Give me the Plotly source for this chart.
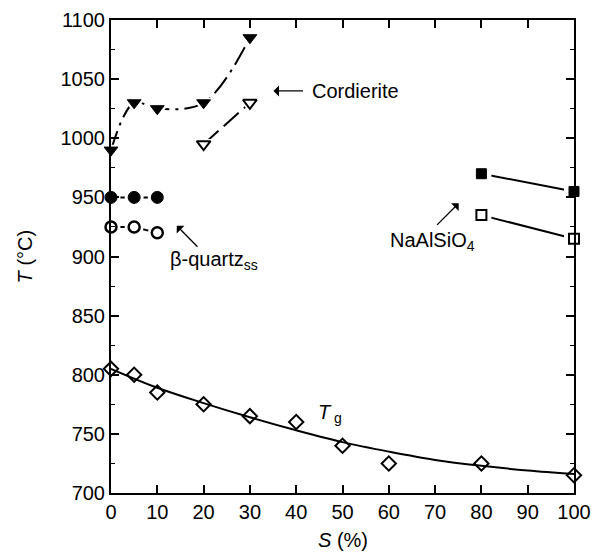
import plotly.graph_objects as go

# ---- data ----
cord_x = [0, 5, 10, 20, 30]
cord_T = [990, 1030, 1025, 1030, 1085]
cord_open_x = [20, 30]
cord_open_T = [995, 1030]

bq_x = [0, 5, 10]
bq_T = [950, 950, 950]
bq_open_T = [925, 925, 920]

na_x = [80, 100]
na_T = [970, 955]
na_open_T = [935, 915]

tg_x = [0, 5, 10, 20, 30, 40, 50, 60, 80, 100]
tg_T = [805, 800, 785, 775, 765, 760, 740, 725, 725, 715]

fit_x = [0, 10, 20, 30, 40, 50, 60, 70, 80, 90, 100]
fit_T = [805, 789, 776, 764, 753, 743, 735, 728, 723, 719, 716]

x_ticks = [0, 10, 20, 30, 40, 50, 60, 70, 80, 90, 100]
y_ticks = [700, 750, 800, 850, 900, 950, 1000, 1050, 1100]

FONT = "Liberation Sans, Arial, Helvetica, sans-serif"
BLACK = "black"
FS = 20

fig = go.Figure()

def line(x, y, dash="solid", shape="linear", width=2):
    fig.add_trace(go.Scatter(x=x, y=y, mode="lines", showlegend=False,
                             line=dict(color=BLACK, width=width, dash=dash, shape=shape,
                                       smoothing=1.0), hoverinfo="skip"))

def halo(x, y, symbol, size):
    fig.add_trace(go.Scatter(x=x, y=y, mode="markers", showlegend=False, cliponaxis=False,
                             marker=dict(symbol=symbol, size=size, color="white",
                                         line=dict(width=0)), hoverinfo="skip"))

def marks(x, y, symbol, size, lw=2):
    fig.add_trace(go.Scatter(x=x, y=y, mode="markers", showlegend=False, cliponaxis=False,
                             marker=dict(symbol=symbol, size=size, color=BLACK,
                                         line=dict(width=lw, color=BLACK))))

# lines
line(cord_x, cord_T, dash="20px,6px,3px,6px", shape="spline")
line(cord_open_x, cord_open_T, dash="20px,7px")
line(bq_x, bq_T)
line(bq_x, bq_open_T)
line(na_x, na_T)
line(na_x, na_open_T)
line(fit_x, fit_T, shape="spline", width=2)

# halos to create gaps around markers
halo(cord_x, cord_T, "triangle-down", 21)
halo(cord_open_x, cord_open_T, "triangle-down", 21)
halo(bq_x, bq_T, "circle", 19)
halo(bq_x, bq_open_T, "circle", 19)
halo(na_x, na_T, "square", 20)
halo(na_x, na_open_T, "square", 20)

# markers
marks(cord_x, cord_T, "triangle-down", 12, 1)
marks(cord_open_x, cord_open_T, "triangle-down-open", 12, 2)
marks(bq_x, bq_T, "circle", 12, 1)
marks(bq_x, bq_open_T, "circle-open", 11, 2.5)
marks(na_x, na_T, "square", 10, 1)
marks(na_x, na_open_T, "square-open", 10, 2)
fig.add_trace(go.Scatter(x=tg_x, y=tg_T, mode="markers", showlegend=False, cliponaxis=False,
                         marker=dict(symbol="diamond-open", size=11, color=BLACK,
                                     line=dict(width=2, color=BLACK))))

tf = dict(family=FONT, size=FS, color=BLACK)
arrow = dict(showarrow=True, arrowhead=1, arrowsize=1.4, arrowwidth=1.3, arrowcolor=BLACK,
             text="", xref="x", yref="y", axref="x", ayref="y")
annotations = [
    dict(x=35.1, y=1040, ax=41.8, ay=1040, **arrow),
    dict(x=42.9, y=1040, xref="x", yref="y", text="Cordierite", showarrow=False,
         xanchor="left", yanchor="middle", font=tf),
    dict(x=14.2, y=926, ax=19.0, ay=907, **arrow),
    dict(x=22.3, y=897, xref="x", yref="y",
         text="β-quartz<sub>ss</sub>", showarrow=False,
         xanchor="center", yanchor="middle", font=tf),
    dict(x=75.1, y=945, ax=70.1, ay=925.5, **arrow),
    dict(x=69.5, y=913, xref="x", yref="y",
         text="NaAlSiO<sub>4</sub>", showarrow=False,
         xanchor="center", yanchor="middle", font=tf),
    dict(x=47.2, y=767, xref="x", yref="y",
         text="<i>T</i><sub> g</sub>", showarrow=False,
         xanchor="center", yanchor="middle", font=tf),
    # axis titles
    dict(x=0.5, y=-0.099, xref="paper", yref="paper", text="<i>S</i> (%)",
         showarrow=False, xanchor="center", yanchor="middle", font=tf),
    dict(x=-0.186, y=0.5, xref="paper", yref="paper", text="<i>T</i> (°C)",
         showarrow=False, xanchor="center", yanchor="middle", textangle=-90, font=tf),
]

axis_common = dict(showline=True, linecolor=BLACK, linewidth=2, mirror="ticks",
                   ticks="inside", ticklen=8, tickwidth=1.5, tickcolor=BLACK,
                   showgrid=False, zeroline=False, automargin=False,
                   tickfont=dict(family=FONT, size=FS, color=BLACK))

fig.update_layout(
    width=597, height=552,
    margin=dict(l=111, r=23, t=20, b=59),
    paper_bgcolor="white", plot_bgcolor="white",
    annotations=annotations,
    xaxis=dict(range=[0, 100], tickvals=x_ticks, ticktext=[str(v) for v in x_ticks],
               **axis_common),
    yaxis=dict(range=[700, 1100], tickvals=y_ticks, ticktext=[str(v) for v in y_ticks],
               minor=dict(dtick=25, tick0=700, ticks="inside", ticklen=4, tickcolor=BLACK,
                          tickwidth=1.2),
               **axis_common),
)

fig.write_html("out.html")
